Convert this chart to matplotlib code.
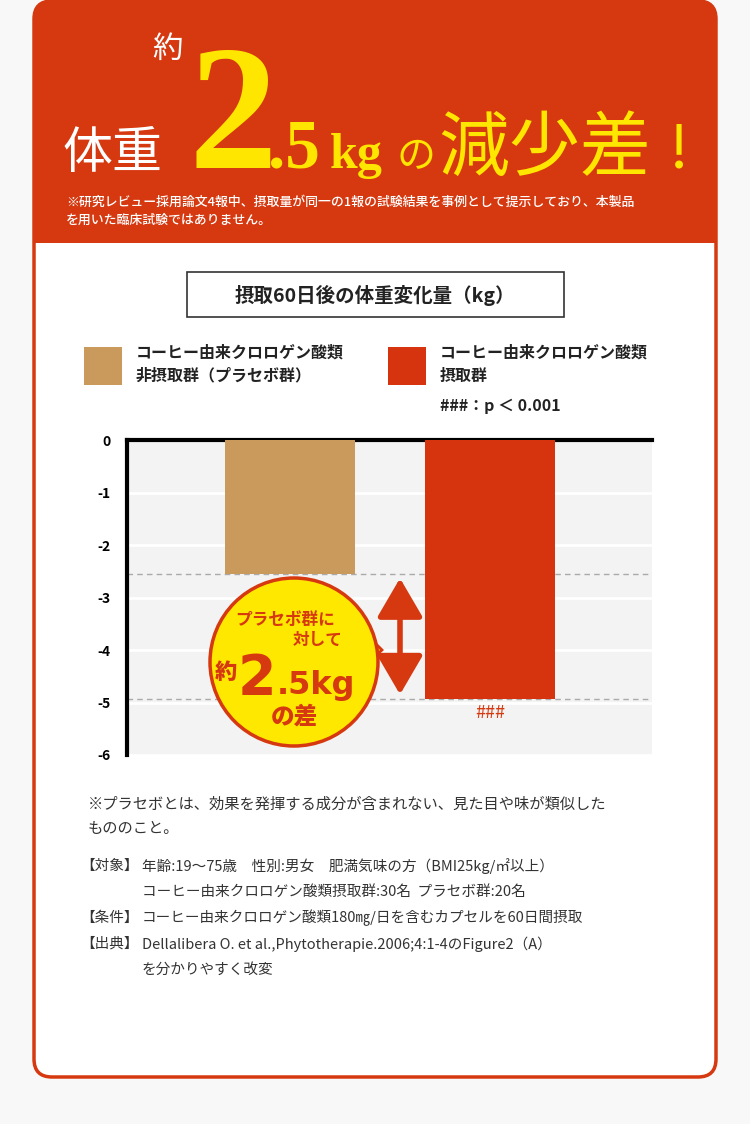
import matplotlib
matplotlib.use("Agg")
import matplotlib.pyplot as plt
from matplotlib.patches import FancyBboxPatch, Rectangle, Circle, Polygon, FancyArrowPatch

plt.rcParams['font.family'] = ['Noto Sans CJK JP', 'DejaVu Sans']

groups = ["コーヒー由来クロロゲン酸類\n非摂取群（プラセボ群）", "コーヒー由来クロロゲン酸類\n摂取群"]
values = [-2.55, -4.93]
colors = ["#c99a5b", "#d6340e"]
yticks = [0, -1, -2, -3, -4, -5, -6]
RED = "#d6380f"

fig = plt.figure(figsize=(7.5, 11.24), dpi=100)
fig.patch.set_facecolor("#f8f8f8")
bg = fig.add_axes([0, 0, 1, 1])
bg.set_xlim(0, 750); bg.set_ylim(1124, 0); bg.axis("off")

bg.add_patch(FancyBboxPatch((34, 1), 682, 1076, boxstyle="round,pad=0,rounding_size=18",
                            fc="white", ec="none"))
bg.add_patch(FancyBboxPatch((34, 1), 682, 270, boxstyle="round,pad=0,rounding_size=18",
                            fc=RED, ec="none"))
bg.add_patch(Rectangle((35, 243), 680, 40, fc="white", ec="none"))
bg.add_patch(FancyBboxPatch((34, 1), 682, 1076, boxstyle="round,pad=0,rounding_size=18",
                            fc="none", ec=RED, lw=2.5))

# header
bg.text(62, 168, "体重", color="white", fontsize=36, va="baseline")
bg.text(152, 58, "約", color="white", fontsize=22, va="baseline")
bg.text(188, 168, "2", color="#ffe600", fontsize=128, family="Liberation Serif", weight="bold", va="baseline")
bg.text(268, 168, ".5", color="#ffe600", fontsize=50, family="Liberation Serif", weight="bold", va="baseline")
bg.text(330, 168, "kg", color="#ffe600", fontsize=36, family="Liberation Serif", weight="bold", va="baseline")
bg.text(397, 168, "の", color="#ffe600", fontsize=28, va="baseline")
bg.text(438, 170, "減少差", color="#ffe600", fontsize=51, va="baseline")
bg.text(668, 168, "!", color="#ffe600", fontsize=48, family="Liberation Serif", va="baseline")
bg.text(66, 202, "※研究レビュー採用論文4報中、摂取量が同一の1報の試験結果を事例として提示しており、本製品",
        color="white", fontsize=9.3, va="center", weight="medium")
bg.text(66, 220, "を用いた臨床試験ではありません。", color="white", fontsize=9.3, va="center", weight="medium")

# chart title
bg.add_patch(Rectangle((187, 272), 377, 45, fc="white", ec="#333333", lw=1.2))
bg.text(375, 295, "摂取60日後の体重変化量（kg）", fontsize=14, ha="center", va="center",
        color="#222222", weight="bold")

# legend
for x, c, g in [(84, colors[0], groups[0]), (388, colors[1], groups[1])]:
    bg.add_patch(Rectangle((x, 347), 38, 38, fc=c, ec="none"))
    bg.text(x + 52, 345, g, fontsize=11.5, weight="bold", va="top", color="#222222", linespacing=1.5)
bg.text(440, 406, "###：p ＜ 0.001", fontsize=11.5, weight="bold", va="center", color="#222222")

# chart
ax = fig.add_axes([127/750, 1-755/1124, 525/750, 315/1124])
ax.set_facecolor("#f3f3f3")
ax.bar([0, 1], values, width=0.65, color=colors, zorder=3, align="center")
ax.set_xlim(-0.815, 1.81)
ax.set_ylim(-6, 0)
ax.set_yticks(yticks)
ax.set_yticklabels([str(t) for t in yticks], fontsize=10, weight="bold")
ax.yaxis.grid(True, color="white", lw=2, zorder=1)
ax.set_xticks([])
ax.tick_params(axis="y", length=0, pad=12)
for s in ["right", "bottom"]:
    ax.spines[s].set_visible(False)
ax.spines["left"].set_linewidth(3)
ax.spines["top"].set_linewidth(3)
for v in values:
    ax.axhline(v, color="#aaaaaa", ls=(0, (4, 3)), lw=1, zorder=2)
ax.text(1, values[1] - 0.1, "###", color=RED, ha="center", va="top", fontsize=13)
ax.add_patch(FancyArrowPatch((0.55, values[0] - 0.03), (0.55, values[1] + 0.03),
                             arrowstyle="<|-|>,head_length=24,head_width=14", mutation_scale=1,
                             color=RED, lw=4, zorder=4))

# bubble (pixel coords on overlay)
ov = fig.add_axes([0, 0, 1, 1], zorder=5)
ov.set_xlim(0, 750); ov.set_ylim(1124, 0); ov.axis("off")
ov.add_patch(Polygon([[360, 628], [382, 650], [360, 670]], fc="#ffe800", ec=RED, lw=2))
ov.add_patch(Circle((294, 662), 84, fc="#ffe800", ec=RED, lw=2.5))
ov.add_patch(Polygon([[355, 630], [370, 650], [355, 668]], fc="#ffe800", ec="none"))
ov.text(285, 620, "プラセボ群に", color=RED, fontsize=12, weight="bold", ha="center", va="center")
ov.text(318, 640, "対して", color=RED, fontsize=12, weight="bold", ha="center", va="center")
ov.text(226, 672, "約", color=RED, fontsize=16, weight="black", ha="center", va="center")
ov.text(238, 694, "2", color=RED, fontsize=40, weight="bold", family="DejaVu Sans", va="baseline")
ov.text(277, 694, ".5kg", color=RED, fontsize=23, weight="bold", family="DejaVu Sans", va="baseline")
ov.text(294, 716, "の差", color=RED, fontsize=17, weight="black", ha="center", va="center")

# notes
tc = "#333333"
bg.text(88, 804, "※プラセボとは、効果を発揮する成分が含まれない、見た目や味が類似した", fontsize=11, va="center", color=tc)
bg.text(88, 829, "もののこと。", fontsize=11, va="center", color=tc)
rows = [(866, "【対象】", "年齢:19～75歳　性別:男女　肥満気味の方（BMI25kg/㎡以上）"),
        (892, "", "コーヒー由来クロロゲン酸類摂取群:30名  プラセボ群:20名"),
        (918, "【条件】", "コーヒー由来クロロゲン酸類180㎎/日を含むカプセルを60日間摂取"),
        (944, "【出典】", "Dellalibera O. et al.,Phytotherapie.2006;4:1-4のFigure2（A）"),
        (970, "", "を分かりやすく改変")]
for y, h, t in rows:
    if h:
        bg.text(80, y, h, fontsize=10.5, va="center", color=tc)
    bg.text(142, y, t, fontsize=10.5, va="center", color=tc)

fig.savefig("out.png", dpi=100, facecolor=fig.get_facecolor())
